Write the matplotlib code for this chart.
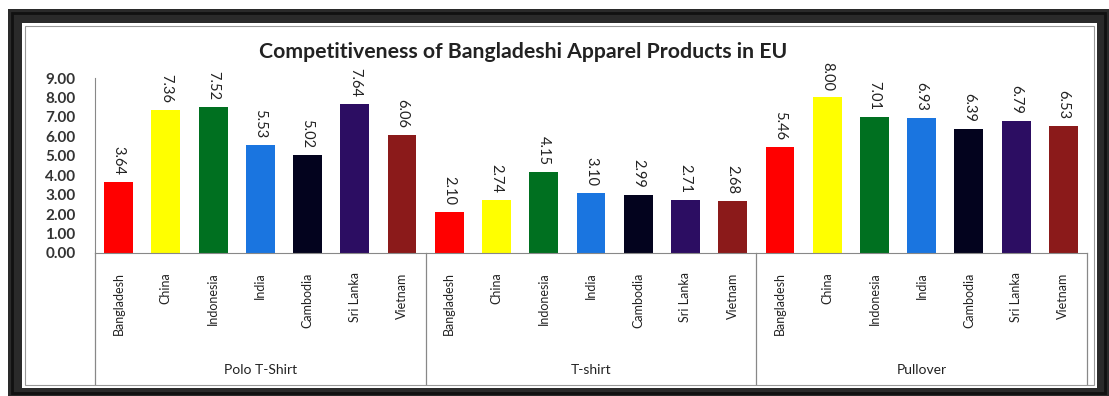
import matplotlib.pyplot as plt
from matplotlib.patches import Rectangle
from matplotlib.transforms import blended_transform_factory

# data
countries = ['Bangladesh', 'China', 'Indonesia', 'India', 'Cambodia', 'Sri Lanka', 'Vietnam']
products = ['Polo T-Shirt', 'T-shirt', 'Pullover']
polo = [3.64, 7.36, 7.52, 5.53, 5.02, 7.64, 6.06]
tshirt = [2.10, 2.74, 4.15, 3.10, 2.99, 2.71, 2.68]
pullover = [5.46, 8.00, 7.01, 6.93, 6.39, 6.79, 6.53]
colors = ['#ff0000', '#ffff00', '#007020', '#1a75e0', '#03031e', '#2c0d62', '#8b1a1a']

plt.rcParams['font.family'] = ['Lato', 'DejaVu Sans']

W, H = 1109, 396
fig = plt.figure(figsize=(W / 100, H / 100), dpi=100)

# picture frame around the chart (pixel coords from top-left)
def px_rect(x0, y0, x1, y1, **kw):
    return Rectangle((x0 / W, 1 - y1 / H), (x1 - x0) / W, (y1 - y0) / H,
                     transform=fig.transFigure, zorder=-5, **kw)

fig.patches.append(px_rect(8, 9, 1109, 396, facecolor='#2a2a2a', edgecolor='none'))
fig.patches.append(px_rect(12, 13, 1105, 393, facecolor='none', edgecolor='#111111', lw=2))
fig.patches.append(px_rect(22, 23, 1097, 388, facecolor='white', edgecolor='none'))
fig.patches.append(px_rect(25, 26, 1094, 385, facecolor='none', edgecolor='#999999', lw=0.8))

ax = fig.add_axes([95 / W, 1 - 253 / H, (1087 - 95) / W, (253 - 78) / H])
ax.set_facecolor('none')

all_vals = polo + tshirt + pullover
labels = countries * 3
xs = list(range(len(all_vals)))
bar_colors = colors * 3

bars = ax.bar(xs, all_vals, width=0.61, color=bar_colors, zorder=2)
for x, v in zip(xs, all_vals):
    ax.annotate(f'{v:.2f}', (x, v), xytext=(0, 5), textcoords='offset points',
                rotation=270, ha='center', va='bottom', fontsize=10.5, color='#222222')

ax.set_xlim(-0.5, len(all_vals) - 0.5)
ax.set_ylim(0, 9)
ax.set_yticks(range(10))
ax.set_yticklabels([f'{t:.2f}' for t in range(10)], fontsize=11, fontweight='bold', color='#333333')
ax.set_xticks(xs)
ax.set_xticklabels(labels, rotation=90, fontsize=9, color='#222222')
ax.tick_params(axis='x', length=0, pad=14)
ax.tick_params(axis='y', length=0, pad=14)

for s in ['top', 'right']:
    ax.spines[s].set_visible(False)
ax.spines['left'].set_color('#888888')
ax.spines['bottom'].set_color('#888888')

# group separators and group names below the category labels
trans = blended_transform_factory(ax.transData, ax.transAxes)
for k in range(len(products) + 1):
    xb = k * len(countries) - 0.5
    ax.plot([xb, xb], [0, -0.75], transform=trans, color='#888888', lw=0.9, clip_on=False)
for k, name in enumerate(products):
    xc = k * len(countries) + (len(countries) - 1) / 2
    ax.text(xc, -0.67, name, transform=trans, ha='center', va='center', fontsize=10, color='#222222')

fig.text(523 / W, 1 - 52 / H, 'Competitiveness of Bangladeshi Apparel Products in EU',
         ha='center', va='center', fontsize=15.3, fontweight='bold', color='#222222')

fig.savefig('out.png', dpi=100)
